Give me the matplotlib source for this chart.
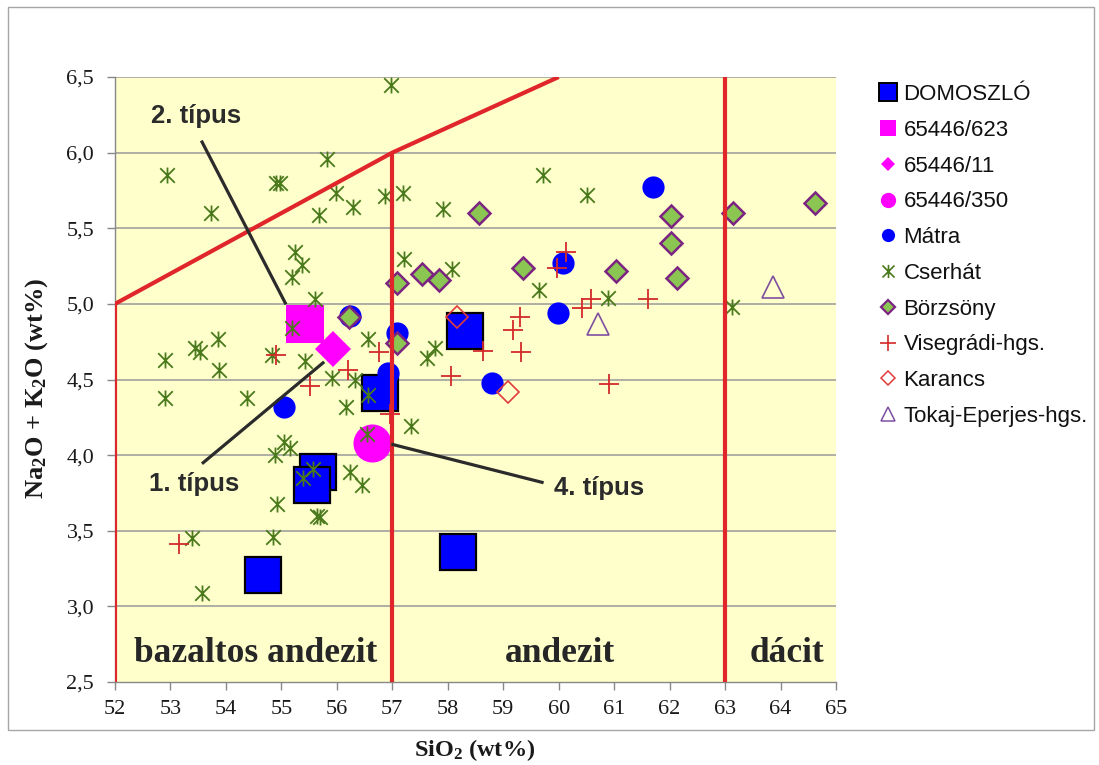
import matplotlib
matplotlib.use("Agg")
import matplotlib.pyplot as plt
from matplotlib.path import Path
from matplotlib.lines import Line2D
from matplotlib.patches import Rectangle

plt.rcParams['mathtext.default'] = 'regular'

# ---------------- data ----------------
dom_x = [54.67, 55.66, 55.55, 56.78, 58.31, 58.18]
dom_y = [3.21, 3.89, 3.80, 4.41, 4.82, 3.36]

s623_x = [55.43]
s623_y = [4.87]
s11_x = [55.93]
s11_y = [4.70]
s350_x = [56.63]
s350_y = [4.08]

matra_x = [55.05, 56.24, 57.08, 56.92, 58.80, 59.99, 60.08, 61.70]
matra_y = [4.32, 4.92, 4.81, 4.54, 4.48, 4.94, 5.27, 5.77]

cser_x = [56.98, 52.94, 53.73, 54.90, 54.97, 55.82, 55.98, 55.68, 56.29, 56.87,
          57.19, 57.91, 59.72, 60.51, 57.21, 58.08, 59.65, 60.89, 63.13, 55.25,
          55.37, 55.19, 55.61, 55.19, 52.90, 53.44, 53.53, 53.86, 53.88, 52.90,
          54.38, 55.43, 55.91, 56.33, 56.56, 56.17, 56.56, 57.34, 56.54, 55.05,
          55.16, 54.89, 55.57, 55.39, 56.24, 56.46, 54.92, 55.64, 55.70, 53.39,
          54.85, 53.57, 57.77, 57.63, 54.83]
cser_y = [6.45, 5.85, 5.60, 5.80, 5.80, 5.96, 5.73, 5.59, 5.64, 5.71,
          5.73, 5.63, 5.85, 5.72, 5.30, 5.23, 5.09, 5.04, 4.98, 5.34,
          5.26, 5.18, 5.03, 4.84, 4.63, 4.71, 4.68, 4.77, 4.56, 4.38,
          4.38, 4.62, 4.51, 4.50, 4.77, 4.32, 4.40, 4.19, 4.14, 4.09,
          4.05, 4.00, 3.91, 3.85, 3.89, 3.80, 3.68, 3.60, 3.59, 3.45,
          3.46, 3.09, 4.71, 4.64, 4.66]

borz_x = [56.22, 57.08, 57.08, 57.53, 57.85, 58.57, 59.36, 61.03, 62.03, 62.03, 62.13, 63.14, 64.62]
borz_y = [4.91, 4.74, 5.14, 5.20, 5.16, 5.60, 5.24, 5.22, 5.58, 5.40, 5.17, 5.60, 5.67]

vis_x = [53.15, 54.90, 55.52, 56.20, 56.76, 56.96, 58.64, 59.30, 59.18, 59.32,
         58.06, 60.13, 59.97, 60.42, 60.58, 61.61, 60.91]
vis_y = [3.41, 4.66, 4.46, 4.56, 4.68, 4.27, 4.69, 4.91, 4.83, 4.68,
         4.52, 5.34, 5.24, 4.97, 5.03, 5.03, 4.47]

kar_x = [58.17, 59.09]
kar_y = [4.91, 4.42]

tok_x = [60.71, 63.86]
tok_y = [4.87, 5.11]

# classification field boundaries (TAS)
bnd1_x = [52, 52, 57, 60]
bnd1_y = [2.5, 5.0, 6.0, 6.5]
bnd2_x = [57, 57]
bnd2_y = [2.5, 6.0]
bnd3_x = [63, 63]
bnd3_y = [2.5, 6.5]

field_labels = ["bazaltos andezit", "andezit", "dácit"]
field_x = [54.54, 60.02, 64.12]
field_y = [2.69, 2.69, 2.69]

type_labels = ["2. típus", "1. típus", "4. típus"]
type_text_x = [53.46, 53.42, 60.73]
type_text_y = [6.24, 3.81, 3.78]
type_line_x = [[53.57, 55.07], [53.59, 55.75], [57.01, 59.70]]
type_line_y = [[6.07, 5.006], [3.95, 4.61], [4.07, 3.82]]

x_ticks = list(range(52, 66))
y_ticks = [2.5, 3.0, 3.5, 4.0, 4.5, 5.0, 5.5, 6.0, 6.5]
y_ticklabels = ["2,5", "3,0", "3,5", "4,0", "4,5", "5,0", "5,5", "6,0", "6,5"]

legend_labels = ["DOMOSZLÓ", "65446/623", "65446/11", "65446/350", "Mátra",
                 "Cserhát", "Börzsöny", "Visegrádi-hgs.", "Karancs", "Tokaj-Eperjes-hgs."]

# ---------------- styles ----------------
BLUE = '#0000ff'
PINK = '#ff00ff'
GREEN = '#4a7a1c'
BFILL = '#8cc652'
BEDGE = '#7b2482'
RED = '#e0262a'
VRED = '#d42a2a'
KRED = '#e03c3c'
TPURP = '#7f4fa0'
BG = '#ffffcc'
SERIF = 'Liberation Serif'
SANS = 'Liberation Sans'

asterisk = Path([(-1, -1), (1, 1), (-1, 1), (1, -1), (0, -1.1), (0, 1.1)],
                [Path.MOVETO, Path.LINETO] * 3)

fig = plt.figure(figsize=(10.99, 7.65), dpi=100)
fig.patches.append(Rectangle((8 / 1099, 1 - 730 / 765), 1086 / 1099, 723 / 765,
                             transform=fig.transFigure, fill=False,
                             edgecolor='#a6a6a6', linewidth=1.0))

ax = fig.add_axes([115 / 1099, 1 - 682 / 765, (836 - 115) / 1099, (682 - 77) / 765])
ax.set_facecolor(BG)
ax.set_xlim(52, 65)
ax.set_ylim(2.5, 6.5)

for yv in y_ticks[1:]:
    ax.axhline(yv, color='#999999', linewidth=1.1, zorder=1)

ax.plot(dom_x, dom_y, linestyle='none', marker='s', ms=25.5, mfc=BLUE, mec='black', mew=1.6, zorder=3)
ax.plot(s623_x, s623_y, linestyle='none', marker='s', ms=27, mfc=PINK, mec=PINK, mew=0, zorder=3)
ax.plot(s11_x, s11_y, linestyle='none', marker='D', ms=18.8, mfc=PINK, mec=PINK, mew=0, zorder=3)
ax.plot(s350_x, s350_y, linestyle='none', marker='o', ms=27.4, mfc=PINK, mec=PINK, mew=0, zorder=3)
ax.plot(matra_x, matra_y, linestyle='none', marker='o', ms=16, mfc=BLUE, mec=BLUE, mew=0, zorder=3)
ax.plot(cser_x, cser_y, linestyle='none', marker=asterisk, ms=11.5, mfc='none', mec=GREEN, mew=1.3, zorder=3)
ax.plot(borz_x, borz_y, linestyle='none', marker='D', ms=10.8, mfc=BFILL, mec=BEDGE, mew=1.8, zorder=3)
ax.plot(vis_x, vis_y, linestyle='none', marker='+', ms=15, mec=VRED, mew=1.3, zorder=3)
ax.plot(kar_x, kar_y, linestyle='none', marker='D', ms=10.8, mfc='none', mec=KRED, mew=1.2, zorder=3)
ax.plot(tok_x, tok_y, linestyle='none', marker='^', ms=16.5, mfc='none', mec=TPURP, mew=1.2, zorder=3)

for bx, by in [(bnd1_x, bnd1_y), (bnd2_x, bnd2_y), (bnd3_x, bnd3_y)]:
    ax.plot(bx, by, color=RED, linewidth=3.0, solid_capstyle='butt', solid_joinstyle='miter', zorder=4)

for lx, ly in zip(type_line_x, type_line_y):
    ax.plot(lx, ly, color='#2b2b2b', linewidth=2.3, zorder=5)
for t, tx, ty in zip(type_labels, type_text_x, type_text_y):
    ax.text(tx, ty, t, ha='center', va='center', fontsize=18.5, fontweight='bold',
            family=SANS, color='#2b2b2b', zorder=6)

for t, tx, ty in zip(field_labels, field_x, field_y):
    ax.text(tx, ty, t, ha='center', va='center', fontsize=25.5, fontweight='bold',
            family=SERIF, color='#262626', zorder=6)

for side in ['top', 'right']:
    ax.spines[side].set_visible(False)
for side in ['left', 'bottom']:
    ax.spines[side].set_color('#888888')
    ax.spines[side].set_linewidth(1.0)

ax.set_xticks(x_ticks)
ax.set_xticklabels([str(v) for v in x_ticks])
ax.set_yticks(y_ticks)
ax.set_yticklabels(y_ticklabels)
ax.tick_params(axis='both', direction='out', length=6, width=1.0, color='#888888',
               labelsize=16, labelcolor='#1a1a1a')
ax.tick_params(axis='x', pad=7)
ax.tick_params(axis='y', pad=9)
for lab in ax.get_xticklabels() + ax.get_yticklabels():
    lab.set_family(SERIF)

fig.text(475 / 1099, 1 - 750 / 765, 'SiO$_2$ (wt%)', ha='center', va='center',
         fontsize=17.5, fontweight='bold', family=SERIF, color='#1a1a1a')
fig.text(37 / 1099, 1 - 388 / 765, 'Na$_2$O + K$_2$O (wt%)', ha='center', va='center',
         rotation=90, fontsize=19, fontweight='bold', family=SERIF, color='#1a1a1a')

handles = [
    Line2D([], [], linestyle='none', marker='s', ms=12.5, mfc=BLUE, mec='black', mew=1.4),
    Line2D([], [], linestyle='none', marker='s', ms=11, mfc=PINK, mec=PINK, mew=0),
    Line2D([], [], linestyle='none', marker='D', ms=7.5, mfc=PINK, mec=PINK, mew=0),
    Line2D([], [], linestyle='none', marker='o', ms=11, mfc=PINK, mec=PINK, mew=0),
    Line2D([], [], linestyle='none', marker='o', ms=9.5, mfc=BLUE, mec=BLUE, mew=0),
    Line2D([], [], linestyle='none', marker=asterisk, ms=9.5, mfc='none', mec=GREEN, mew=1.2),
    Line2D([], [], linestyle='none', marker='D', ms=7.5, mfc=BFILL, mec=BEDGE, mew=1.6),
    Line2D([], [], linestyle='none', marker='+', ms=11, mec=VRED, mew=1.2),
    Line2D([], [], linestyle='none', marker='D', ms=7, mfc='none', mec=KRED, mew=1.1),
    Line2D([], [], linestyle='none', marker='^', ms=10.5, mfc='none', mec=TPURP, mew=1.1),
]
fig.legend(handles, legend_labels, loc='upper left',
           bbox_to_anchor=(878 / 1099, 1 - 84 / 765), frameon=False,
           prop={'family': SANS, 'size': 16}, handlelength=0.9, handletextpad=0.25,
           labelspacing=0.665, borderpad=0, borderaxespad=0, labelcolor='#111111')

fig.savefig('out.png', dpi=100)
